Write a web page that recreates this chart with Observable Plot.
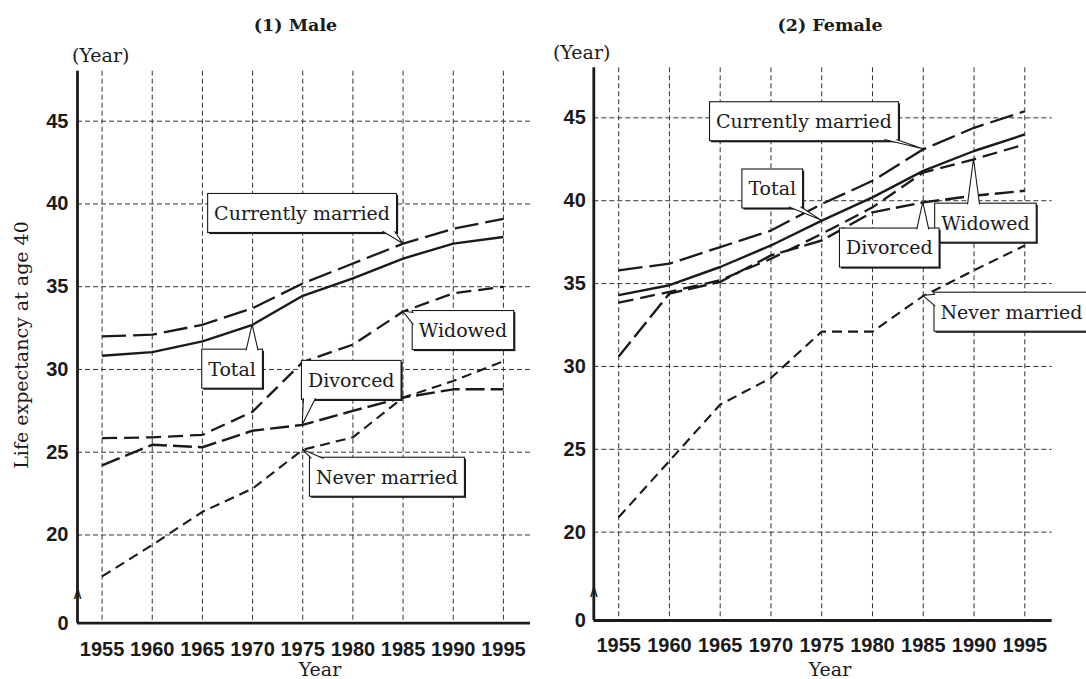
<!DOCTYPE html>
<html>
<head>
<meta charset="utf-8">
<script src="https://cdn.jsdelivr.net/npm/d3@7"></script>
<script src="https://cdn.jsdelivr.net/npm/@observablehq/plot@0.6"></script>
<style>
  body { margin: 0; background: #fff; }
  #wrap { position: relative; width: 1086px; height: 679px; background: #fff; overflow: hidden; }
  .t { position: absolute; font-family: "DejaVu Serif", serif; font-size: 19px; line-height: 1; white-space: nowrap; color: #1a1a1a; }
  .title { font-weight: bold; font-size: 17.5px; transform: translateX(-50%); }
  .xl { transform: translateX(-50%); }
  .yl { transform: translate(-50%, -50%) rotate(-90deg); }
  .panel { position: absolute; top: 0; }
</style>
</head>
<body>
<div id="wrap">
  <div class="t title" style="left:295.5px; top:17px;">(1) Male</div>
  <div class="t title" style="left:830px; top:17px;">(2) Female</div>
  <div class="t" style="left:72px; top:46px;">(Year)</div>
  <div class="t" style="left:553px; top:43px;">(Year)</div>
  <div class="t xl" style="left:320px; top:660px;">Year</div>
  <div class="t xl" style="left:830px; top:660px;">Year</div>
  <div class="t yl" style="left:20.5px; top:345px;">Life expectancy at age 40</div>
  <div id="male" class="panel" style="left:0px;"></div>
  <div id="female" class="panel" style="left:540px;"></div>
</div>
<script>
// ---------------- data ----------------
const years = [1955, 1960, 1965, 1970, 1975, 1980, 1985, 1990, 1995];
const yTicks = [20, 25, 30, 35, 40, 45];
const seriesKeys = ["Total", "Currently married", "Widowed", "Divorced", "Never married"];

const maleTotal    = [30.83, 31.05, 31.7, 32.7, 34.45, 35.5, 36.7, 37.6, 38.0];
const maleMarried  = [32.0, 32.1, 32.7, 33.7, 35.2, 36.4, 37.6, 38.5, 39.1];
const maleWidowed  = [25.85, 25.9, 26.05, 27.45, 30.45, 31.5, 33.5, 34.6, 35.0];
const maleDivorced = [24.2, 25.45, 25.3, 26.3, 26.65, 27.5, 28.3, 28.8, 28.8];
const maleNever    = [17.5, 19.4, 21.4, 22.8, 25.15, 25.9, 28.3, 29.3, 30.5];

const femaleTotal    = [34.3, 34.9, 36.0, 37.3, 38.8, 40.2, 41.8, 43.0, 44.0];
const femaleMarried  = [35.8, 36.2, 37.2, 38.2, 39.8, 41.2, 43.1, 44.4, 45.4];
const femaleWidowed  = [33.85, 34.5, 35.2, 36.5, 38.0, 39.6, 41.7, 42.5, 43.4];
const femaleDivorced = [30.6, 34.4, 35.1, 36.7, 37.6, 39.3, 39.9, 40.3, 40.6];
const femaleNever    = [20.9, 24.3, 27.7, 29.3, 32.1, 32.1, 34.25, 35.8, 37.3];

// callout labels: which series and which year each label points at
const maleCalloutSeries   = ["Currently married", "Total", "Widowed", "Divorced", "Never married"];
const maleCalloutYears    = [1985, 1970, 1985, 1975, 1975];
const femaleCalloutSeries = ["Currently married", "Total", "Widowed", "Divorced", "Never married"];
const femaleCalloutYears  = [1985, 1975, 1990, 1985, 1985];

// ---------------- layout / style ----------------
const ink = "#1a1a1a";
const xDomain = [1952.55, 1997.7];
const yDomain = [14.67, 48.02];   // bottom of axis is the broken "0"
const lineStyle = {
  "Total":             {strokeWidth: 2.4, strokeDasharray: null},
  "Currently married": {strokeWidth: 2.3, strokeDasharray: "24,7"},
  "Widowed":           {strokeWidth: 2.3, strokeDasharray: "15,7"},
  "Divorced":          {strokeWidth: 2.4, strokeDasharray: "19,6"},
  "Never married":     {strokeWidth: 2.1, strokeDasharray: "10,6"}
};
// box-centre offsets (px) from the pointed-at data point
const maleCalloutOffsets   = [[-100.5, -30.2], [-20, 44.4], [60.4, 19], [49, -44.5], [84.7, 27.5]];
const femaleCalloutOffsets = [[-118.8, -27.6], [-49, -31.6], [11.9, 63.9], [-33.5, 45.7], [88.7, 16.2]];

const calloutFont = 19, padX = 6.5, boxH = 39;

function calloutMark(items) {
  return Plot.text(items, {
    x: "year", y: "value", text: "label",
    render(index, scales, values, dimensions, context) {
      const doc = context.document;
      const g = d3.select(doc.createElementNS("http://www.w3.org/2000/svg", "g"));
      const ctx = doc.createElement("canvas").getContext("2d");
      ctx.font = `${calloutFont}px "DejaVu Serif"`;
      const clamp = (v, a, b) => Math.max(a, Math.min(b, v));
      for (const i of index) {
        const d = items[i];
        const px = values.x[i], py = values.y[i];
        const w = ctx.measureText(d.label).width + 2 * padX, h = boxH;
        const cx = px + d.dx, cy = py + d.dy;
        const bx = cx - w / 2, by = cy - h / 2;
        const hw = 6, ins = 1.2;
        let b1, b2;
        if (py < by) { const c = clamp(px, bx + hw + 2, bx + w - hw - 2); b1 = [c - hw, by + ins]; b2 = [c + hw, by + ins]; }
        else if (py > by + h) { const c = clamp(px, bx + hw + 2, bx + w - hw - 2); b1 = [c - hw, by + h - ins]; b2 = [c + hw, by + h - ins]; }
        else if (px < bx) { const c = clamp(py, by + hw + 2, by + h - hw - 2); b1 = [bx + ins, c - hw]; b2 = [bx + ins, c + hw]; }
        else { const c = clamp(py, by + hw + 2, by + h - hw - 2); b1 = [bx + w - ins, c - hw]; b2 = [bx + w - ins, c + hw]; }
        g.append("rect").attr("x", bx + 1.6).attr("y", by + 1.6).attr("width", w).attr("height", h).attr("fill", ink);
        g.append("rect").attr("x", bx).attr("y", by).attr("width", w).attr("height", h)
          .attr("fill", "#fff").attr("stroke", ink).attr("stroke-width", 1.1);
        g.append("path").attr("d", `M${b1[0]},${b1[1]}L${px},${py}L${b2[0]},${b2[1]}`)
          .attr("fill", "#fff").attr("stroke", ink).attr("stroke-width", 1.1).attr("stroke-linejoin", "miter");
        g.append("text").attr("x", cx).attr("y", cy).attr("dy", "0.36em").attr("text-anchor", "middle")
          .attr("font-family", "DejaVu Serif").attr("font-size", calloutFont).attr("fill", ink).text(d.label);
      }
      return g.node();
    }
  });
}

function panel({width, marginLeft, marginRight, marginTop, marginBottom, series, callSeries, callYears, callOffsets, xPad, yPad}) {
  const rows = [];
  for (const key of seriesKeys) series[key].forEach((v, i) => rows.push({series: key, year: years[i], value: v}));
  const items = callSeries.map((s, k) => ({
    label: s, year: callYears[k], value: series[s][years.indexOf(callYears[k])],
    dx: callOffsets[k][0], dy: callOffsets[k][1]
  }));
  const lineMarks = seriesKeys.map(key => Plot.line(rows.filter(r => r.series === key), {
    x: "year", y: "value", stroke: ink, strokeLinejoin: "round", strokeLinecap: "butt", ...lineStyle[key]
  }));
  return Plot.plot({
    width, height: 679, marginLeft, marginRight, marginTop, marginBottom,
    style: {background: "transparent", overflow: "visible", color: ink},
    x: {domain: xDomain, axis: null},
    y: {domain: yDomain, axis: null},
    marks: [
      Plot.gridX(years, {stroke: "#333", strokeOpacity: 1, strokeWidth: 1, strokeDasharray: "5,3"}),
      Plot.gridY(yTicks, {stroke: "#333", strokeOpacity: 1, strokeWidth: 1, strokeDasharray: "5,3"}),
      Plot.ruleX([xDomain[0]], {stroke: ink, strokeWidth: 2.8}),
      Plot.ruleY([yDomain[0]], {stroke: ink, strokeWidth: 2.8}),
      Plot.text(["∧"], {frameAnchor: "bottom-left", textAnchor: "middle", text: d => d, dy: -24, fontSize: 16, fill: ink, fontFamily: "DejaVu Sans"}),
      Plot.axisY([yDomain[0], ...yTicks], {
        tickSize: 0, tickPadding: yPad, label: null,
        tickFormat: d => d === yDomain[0] ? "0" : String(d),
        fontSize: 20, fontWeight: "bold", fontFamily: "Liberation Sans", fill: ink
      }),
      Plot.axisX(years, {
        tickSize: 0, tickPadding: xPad, label: null, tickFormat: d => String(d),
        fontSize: 20, fontWeight: "bold", fontFamily: "Liberation Sans", fill: ink
      }),
      ...lineMarks,
      calloutMark(items)
    ]
  });
}

document.getElementById("male").append(panel({
  width: 540, marginLeft: 77, marginRight: 10, marginTop: 70.7, marginBottom: 56.3,
  series: {"Total": maleTotal, "Currently married": maleMarried, "Widowed": maleWidowed, "Divorced": maleDivorced, "Never married": maleNever},
  callSeries: maleCalloutSeries, callYears: maleCalloutYears, callOffsets: maleCalloutOffsets,
  xPad: 19, yPad: 9
}));
document.getElementById("female").append(panel({
  width: 546, marginLeft: 53.3, marginRight: 34.3, marginTop: 67.3, marginBottom: 59,
  series: {"Total": femaleTotal, "Currently married": femaleMarried, "Widowed": femaleWidowed, "Divorced": femaleDivorced, "Never married": femaleNever},
  callSeries: femaleCalloutSeries, callYears: femaleCalloutYears, callOffsets: femaleCalloutOffsets,
  xPad: 17, yPad: 8
}));
</script>
</body>
</html>
